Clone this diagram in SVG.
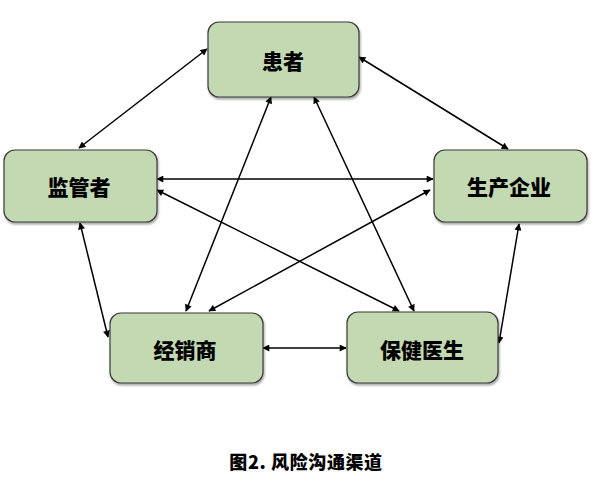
<svg xmlns="http://www.w3.org/2000/svg" width="600" height="491" viewBox="0 0 600 491">
<defs>
<marker id="ah" viewBox="0 0 10 10" refX="9" refY="5" markerWidth="8" markerHeight="7" markerUnits="userSpaceOnUse" orient="auto-start-reverse">
<path d="M0,0 L10,5 L0,10 Z" fill="#000"/>
</marker>
<filter id="sh" x="-10%" y="-10%" width="120%" height="130%">
<feDropShadow dx="1" dy="2" stdDeviation="1" flood-color="#000" flood-opacity="0.35"/>
</filter>
</defs>
<style>
.box{fill:#c3d9b1;stroke:#3a3a3a;stroke-width:1.2;filter:url(#sh)}
.lbl{font-family:"Noto Sans CJK SC","Liberation Sans",sans-serif;font-weight:900;font-size:21px;fill:#000;text-anchor:middle;dominant-baseline:central}
.cn{stroke:#000;stroke-width:1.5;fill:none;marker-start:url(#ah);marker-end:url(#ah)}
.cap{font-family:"Noto Sans CJK SC","Liberation Sans",sans-serif;font-weight:900;font-size:18px;letter-spacing:0.6px;fill:#000;text-anchor:middle;dominant-baseline:central}
</style>
<rect width="600" height="491" fill="#fff"/>
<g id="connectors">
<line class="cn" x1="207" y1="49" x2="79" y2="148"/>
<line class="cn" x1="359" y1="57" x2="508" y2="149"/>
<line class="cn" x1="157" y1="179" x2="433" y2="179"/>
<line class="cn" x1="157" y1="190" x2="399" y2="311"/>
<line class="cn" x1="430" y1="190" x2="209" y2="311"/>
<line class="cn" x1="271" y1="97" x2="186" y2="311"/>
<line class="cn" x1="314" y1="97" x2="414" y2="311"/>
<line class="cn" x1="80" y1="223" x2="108" y2="337"/>
<line class="cn" x1="519" y1="224" x2="499" y2="343"/>
<line class="cn" x1="263" y1="348" x2="346" y2="348"/>
</g>
<g id="node-patient">
<rect class="box" x="208" y="22" width="151" height="75" rx="11"/>
<text class="lbl" x="283" y="60">患者</text>
</g>
<g id="node-regulator">
<rect class="box" x="4" y="150" width="153" height="72" rx="11"/>
<text class="lbl" x="79" y="186">监管者</text>
</g>
<g id="node-manufacturer">
<rect class="box" x="434" y="150" width="153" height="72" rx="11"/>
<text class="lbl" x="509" y="186">生产企业</text>
</g>
<g id="node-distributor">
<rect class="box" x="110" y="313" width="153" height="70" rx="11"/>
<text class="lbl" x="185" y="349">经销商</text>
</g>
<g id="node-doctor">
<rect class="box" x="347" y="312" width="151" height="71" rx="11"/>
<text class="lbl" x="422" y="349">保健医生</text>
</g>
<text class="cap" x="306" y="461">图2. 风险沟通渠道</text>
</svg>
